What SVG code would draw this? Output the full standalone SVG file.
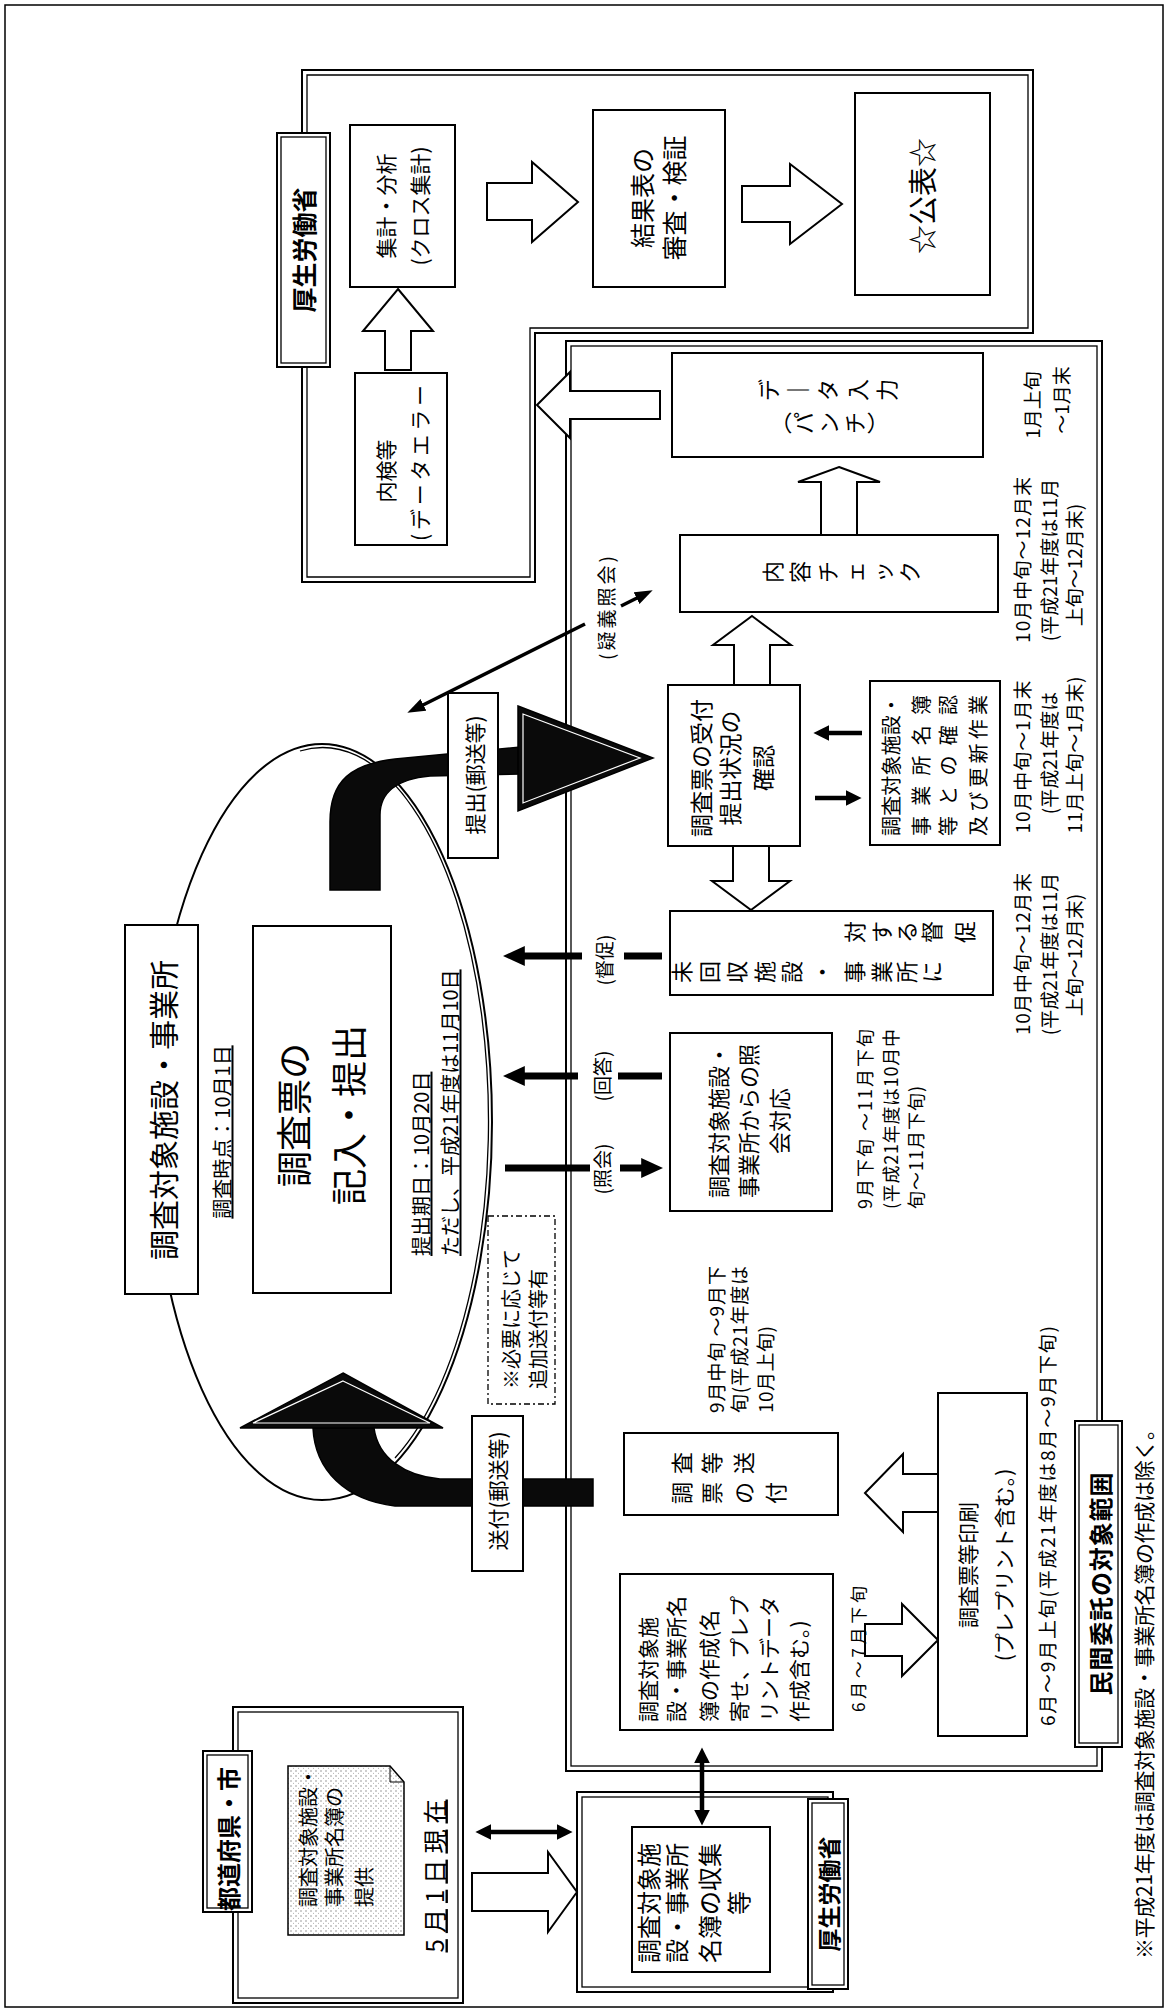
<svg xmlns="http://www.w3.org/2000/svg" width="1168" height="2011" viewBox="0 0 1168 2011">
<style>
.bx{fill:#fff;stroke:#000;stroke-width:2}
.bi{fill:none;stroke:#000;stroke-width:1.3}
.fr{fill:none;stroke:#000;stroke-width:2}
.ha{fill:#fff;stroke:#000;stroke-width:2}
.bk{fill:#0a0a0a;stroke:#000;stroke-width:1.5}
.wl{fill:none;stroke:#fff;stroke-width:1.2}
.l7{stroke:#000;stroke-width:7;fill:none}
.l4{stroke:#000;stroke-width:4.5;fill:none}
.l3{stroke:#000;stroke-width:3.5;fill:none}
text{font-family:"Noto Sans CJK JP","Noto Sans CJK SC",sans-serif;fill:#000;text-anchor:middle;dominant-baseline:central}
.s{text-anchor:start}
.b{font-weight:700}
.u{text-decoration:underline}
</style>
<defs>
<marker id="ahL" viewBox="0 0 10 10" refX="4" refY="5" markerWidth="22" markerHeight="20" markerUnits="userSpaceOnUse" preserveAspectRatio="none" orient="auto-start-reverse"><path d="M0,0L10,5L0,10z"/></marker>
<marker id="ahM" viewBox="0 0 10 10" refX="4" refY="5" markerWidth="16" markerHeight="16" markerUnits="userSpaceOnUse" preserveAspectRatio="none" orient="auto-start-reverse"><path d="M0,0L10,5L0,10z"/></marker>
<marker id="ahS" viewBox="0 0 10 10" refX="4" refY="5" markerWidth="18" markerHeight="13" markerUnits="userSpaceOnUse" preserveAspectRatio="none" orient="auto-start-reverse"><path d="M0,0L10,5L0,10z"/></marker>
<pattern id="dots" width="5" height="5" patternUnits="userSpaceOnUse"><rect width="5" height="5" fill="#fff"/><circle cx="1" cy="1" r="0.7" fill="#777"/><circle cx="3.5" cy="3.2" r="0.5" fill="#999"/></pattern>
</defs>
<rect width="1168" height="2011" fill="#fff"/>
<rect x="5" y="5" width="1158" height="2002" fill="none" stroke="#000" stroke-width="1.5"/>

<!-- frames -->
<g id="mhlw-top-frame">
<polygon class="fr" points="302,70 1033,70 1033,333 535,333 535,582 302,582"/>
<polygon class="bi" points="307,75 1028,75 1028,328 530,328 530,577 307,577"/>
</g>
<g id="outsourcing-frame">
<rect class="fr" x="566" y="341" width="536" height="1430"/>
<rect class="bi" x="571" y="346" width="526" height="1420"/>
</g>
<g id="mhlw-bottom-frame">
<rect class="fr" x="577" y="1792" width="256" height="200"/>
<rect class="bi" x="582" y="1797" width="246" height="190"/>
</g>
<g id="prefecture-frame">
<rect class="fr" x="233" y="1707" width="230" height="296"/>
<rect class="bi" x="238" y="1712" width="220" height="286"/>
</g>

<!-- ellipse and curved arrows -->
<g id="survey-cycle">
<ellipse cx="322" cy="1122" rx="170" ry="378" fill="none" stroke="#000" stroke-width="2"/>
<path d="M300,751 A166 374 0 0 1 395,1458" fill="none" stroke="#000" stroke-width="1.3"/>
</g>

<g id="connectors">
<path class="bk" d="M330,890 L330,822 C330,780 352,764 395,759 L520,747 L520,774 L430,776 C398,779 380,792 380,815 L380,890 Z"/>
<polygon class="bk" points="518,706 653,758 518,811"/>
<polygon class="wl" points="523,714 640,758 523,803"/>
<path class="bk" d="M313,1428 C315,1470 345,1500 395,1506 L593,1506 L593,1479 L440,1479 C405,1476 378,1458 374,1428 Z"/>
<polygon class="bk" points="343,1373 443,1428 240,1428"/>
<polygon class="wl" points="343,1381 430,1423 253,1423"/>

<polygon class="ha" points="398,289 433,331 411,331 411,370 385,370 385,331 363,331"/>
<polygon class="ha" points="578,202 532,242 532,220 487,220 487,183 532,183 532,162"/>
<polygon class="ha" points="842,204 790,244 790,222 742,222 742,186 790,186 790,164"/>
<polygon class="ha" points="537,405 570,372 570,391 660,391 660,419 570,419 570,438"/>
<polygon class="ha" points="839,467 880,482 857,482 857,535 821,535 821,482 798,482"/>
<polygon class="ha" points="752,616 791,645 770,645 770,685 734,685 734,645 713,645"/>
<polygon class="ha" points="751,910 790,881 769,881 769,846 733,846 733,881 712,881"/>
<polygon class="ha" points="577,1892 548,1932 548,1911 472,1911 472,1873 548,1873 548,1852"/>
<polygon class="ha" points="938,1640 902,1676 902,1656 865,1656 865,1624 902,1624 902,1604"/>
<polygon class="ha" points="865,1493 903,1532 903,1512 938,1512 938,1474 903,1474 903,1454"/>

<line class="l3" x1="417" y1="708" x2="585" y2="624" marker-start="url(#ahS)"/>
<line class="l3" x1="621" y1="606" x2="643" y2="595" marker-end="url(#ahS)"/>
<line class="l7" x1="662" y1="956" x2="624" y2="956"/>
<line class="l7" x1="582" y1="956" x2="516" y2="956" marker-end="url(#ahL)"/>
<line class="l7" x1="662" y1="1076" x2="618" y2="1076"/>
<line class="l7" x1="578" y1="1076" x2="516" y2="1076" marker-end="url(#ahL)"/>
<line class="l7" x1="505" y1="1168" x2="590" y2="1168"/>
<line class="l7" x1="620" y1="1168" x2="650" y2="1168" marker-end="url(#ahL)"/>
<line class="l4" x1="862" y1="733" x2="823" y2="733" marker-end="url(#ahM)"/>
<line class="l4" x1="815" y1="798" x2="852" y2="798" marker-end="url(#ahM)"/>
<line class="l4" x1="485" y1="1832" x2="563" y2="1832" marker-start="url(#ahM)" marker-end="url(#ahM)"/>
<line class="l4" x1="702" y1="1757" x2="702" y2="1816" marker-start="url(#ahM)" marker-end="url(#ahM)"/>
<g transform="rotate(-90)">
<text x="-608" y="605" font-size="19" textLength="104">(疑義照会)</text>
<text x="-960" y="603" font-size="19">(督促)</text>
<text x="-1076" y="601" font-size="19">(回答)</text>
<text x="-1169" y="601" font-size="19">(照会)</text>
</g>
</g>

<!-- nodes -->
<g id="mhlw-top-label">
<rect class="bx" x="277" y="133" width="53" height="234"/>
<rect class="bi" x="281" y="137" width="45" height="226"/>
<g transform="rotate(-90)"><text class="b" x="-250" y="303" font-size="25">厚生労働省</text></g>
</g>
<g id="aggregation">
<rect class="bx" x="350" y="125" width="105" height="162"/>
<g transform="rotate(-90)" font-size="21"><text x="-206" y="385">集計・分析</text><text x="-206" y="419">(クロス集計)</text></g>
</g>
<g id="inspection">
<rect class="bx" x="355" y="373" width="92" height="172"/>
<g transform="rotate(-90)" font-size="21"><text x="-471" y="385">内検等</text><text class="s" x="-541" y="419" textLength="156">(データエラー</text></g>
</g>
<g id="result-review">
<rect class="bx" x="593" y="110" width="132" height="177"/>
<g transform="rotate(-90)" font-size="25"><text x="-198" y="641">結果表の</text><text x="-198" y="673">審査・検証</text></g>
</g>
<g id="publication">
<rect class="bx" x="855" y="93" width="135" height="202" stroke-width="2.5"/>
<g transform="rotate(-90)"><text x="-196" y="921" font-size="29">☆公表☆</text></g>
</g>

<g id="data-entry">
<rect class="bx" x="672" y="353" width="311" height="104"/>
<g transform="rotate(-90)" font-size="22">
<text x="-390 -390 -390 -390 -390" y="767 796 826 856 885">デ｜タ入力</text>
<text x="-423 -423 -423 -423 -423" y="779 802 827 853 876">︵パンチ︶</text>
</g>
</g>
<g id="content-check">
<rect class="bx" x="680" y="535" width="318" height="77"/>
<g transform="rotate(-90)" font-size="22"><text x="-572 -572 -572 -572 -572 -572" y="771 798 826 853 881 908">内容チェック</text></g>
</g>
<g id="receipt-check">
<rect class="bx" x="668" y="685" width="132" height="161"/>
<g transform="rotate(-90)" font-size="23"><text x="-768" y="700">調査票の受付</text><text x="-768" y="729">提出状況の</text><text x="-768" y="762">確認</text></g>
</g>
<g id="register-update">
<rect class="bx" x="870" y="681" width="130" height="164"/>
<g transform="rotate(-90)" font-size="20">
<text class="s" x="-836" y="890" textLength="141">調査対象施設・</text>
<text class="s" x="-836" y="920" textLength="141">事業所名簿</text>
<text class="s" x="-836" y="947" textLength="141">等との確認</text>
<text class="s" x="-836" y="977" textLength="141">及び更新作業</text>
</g>
</g>
<g id="reminder">
<rect class="bx" x="670" y="911" width="323" height="84"/>
<g transform="rotate(-90)" font-size="22">
<text x="-972 -972 -972 -972 -972 -972 -972 -972 -972 -972" y="680 708 735 763 790 820 853 880 905 930">未回収施設・事業所に</text>
<text x="-932 -932 -932 -932 -932" y="853 880 905 930 963">対する督促</text>
</g>
</g>
<g id="inquiry-response">
<rect class="bx" x="670" y="1033" width="162" height="178"/>
<g transform="rotate(-90)" font-size="22"><text x="-1121" y="717">調査対象施設・</text><text x="-1121" y="747">事業所からの照</text><text x="-1121" y="778">会対応</text></g>
</g>
<g id="form-dispatch">
<rect class="bx" x="624" y="1433" width="214" height="82"/>
<g transform="rotate(-90)" font-size="22">
<text x="-1493 -1493 -1493 -1493" y="680 710 742 774">調票の付</text>
<text x="-1463 -1463 -1463" y="680 710 742">査等送</text>
</g>
</g>
<g id="form-printing">
<rect class="bx" x="938" y="1393" width="89" height="343"/>
<g transform="rotate(-90)" font-size="21"><text x="-1565" y="967">調査票等印刷</text><text x="-1565" y="1003">(プレプリント含む。)</text></g>
</g>
<g id="register-creation">
<rect class="bx" x="620" y="1574" width="213" height="156"/>
<g transform="rotate(-90)" font-size="21">
<text class="s" x="-1722" y="647">調査対象施</text>
<text class="s" x="-1722" y="675">設・事業所名</text>
<text class="s" x="-1722" y="708">簿の作成(名</text>
<text class="s" x="-1722" y="738">寄せ、プレプ</text>
<text class="s" x="-1722" y="768">リントデータ</text>
<text class="s" x="-1722" y="798">作成含む。)</text>
</g>
</g>
<g id="outsourcing-label">
<rect class="bx" x="1075" y="1421" width="47" height="326"/>
<rect class="bi" x="1079" y="1425" width="39" height="318"/>
<g transform="rotate(-90)"><text class="b" x="-1584" y="1099" font-size="24" textLength="223">民間委託の対象範囲</text></g>
</g>

<g id="survey-target-label">
<rect class="bx" x="125" y="925" width="73" height="369" stroke-width="2.5"/>
<g transform="rotate(-90)"><text x="-1110" y="162" font-size="30">調査対象施設・事業所</text></g>
</g>
<g id="survey-fill">
<rect class="bx" x="253" y="926" width="138" height="367" stroke-width="2.5"/>
<g transform="rotate(-90)" font-size="36"><text x="-1115" y="292">調査票の</text><text x="-1115" y="347">記入・提出</text></g>
</g>
<g id="survey-notes">
<g transform="rotate(-90)" font-size="20">
<text class="u" x="-1132" y="221">調査時点：10月1日</text>
<text class="s u" x="-1256" y="420">提出期日：10月20日</text>
<text class="s u" x="-1256" y="449">ただし、平成21年度は11月10日</text>
</g>
</g>
<g id="extra-dispatch-note">
<rect x="488" y="1216" width="67" height="188" fill="#fff" stroke="#000" stroke-width="1.3" stroke-dasharray="6,3,2,3"/>
<g transform="rotate(-90)" font-size="20"><text class="s" x="-1389" y="510">※必要に応じて</text><text class="s" x="-1389" y="537">追加送付等有</text></g>
</g>
<g id="submit-label">
<rect class="bx" x="448" y="693" width="50" height="165"/>
<g transform="rotate(-90)"><text x="-775" y="474" font-size="21">提出(郵送等)</text></g>
</g>
<g id="send-label">
<rect class="bx" x="472" y="1416" width="51" height="155"/>
<g transform="rotate(-90)"><text x="-1491" y="497" font-size="21">送付(郵送等)</text></g>
</g>

<g id="mhlw-collection">
<rect class="bx" x="632" y="1827" width="138" height="145"/>
<g transform="rotate(-90)" font-size="24"><text x="-1903" y="647">調査対象施</text><text x="-1903" y="675">設・事業所</text><text x="-1903" y="708">名簿の収集</text><text x="-1903" y="737">等</text></g>
</g>
<g id="mhlw-bottom-label">
<rect class="bx" x="808" y="1799" width="40" height="190"/>
<rect class="bi" x="812" y="1803" width="32" height="182"/>
<g transform="rotate(-90)"><text class="b" x="-1894" y="828" font-size="23">厚生労働省</text></g>
</g>
<g id="prefecture-list">
<path d="M288,1766 L390,1766 L404,1782 L404,1935 L288,1935 Z" fill="url(#dots)" stroke="#000" stroke-width="1.5"/>
<path d="M390,1766 L390,1782 L404,1782" fill="none" stroke="#000" stroke-width="1"/>
<g transform="rotate(-90)" font-size="20"><text class="s" x="-1907" y="307">調査対象施設・</text><text class="s" x="-1907" y="333">事業所名簿の</text><text class="s" x="-1907" y="363">提供</text></g>
<g transform="rotate(-90)"><text class="u" x="-1876" y="433" font-size="24" textLength="153">5月1日現在</text></g>
</g>
<g id="prefecture-label">
<rect class="bx" x="203" y="1751" width="49" height="161"/>
<rect class="bi" x="207" y="1755" width="41" height="153"/>
<g transform="rotate(-90)"><text class="b" x="-1839" y="227" font-size="24">都道府県・市</text></g>
</g>

<g id="schedule-notes">
<g transform="rotate(-90)" font-size="19">
<text x="-405" y="1031">1月上旬</text><text x="-400" y="1060">～1月末</text>
<text x="-560" y="1021" textLength="166">10月中旬～12月末</text><text x="-560" y="1048">(平成21年度は11月</text><text x="-565" y="1073">上旬～12月末)</text>
<text x="-757" y="1021" textLength="153">10月中旬～1月末</text><text x="-753" y="1048">(平成21年度は</text><text x="-755" y="1073" textLength="157">11月上旬～1月末)</text>
<text x="-954" y="1021" textLength="162">10月中旬～12月末</text><text x="-954" y="1048">(平成21年度は11月</text><text x="-955" y="1073">上旬～12月末)</text>
<text class="s" x="-1209" y="864" font-size="18" textLength="180">9月下旬 ～11月下旬</text>
<text class="s" x="-1209" y="890" font-size="18" textLength="180">(平成21年度は10月中</text>
<text class="s" x="-1209" y="915" font-size="18" textLength="123">旬～11月下旬)</text>
<text class="s" x="-1413" y="715" textLength="147">9月中旬 ～9月下</text>
<text class="s" x="-1413" y="738" textLength="147">旬(平成21年度は</text>
<text class="s" x="-1413" y="764" textLength="87">10月上旬)</text>
<text class="s" x="-1712" y="857" font-size="17" textLength="126">6月～7月下旬</text>
<text class="s" x="-1726" y="1046" textLength="400">6月～9月上旬(平成21年度は8月～9月下旬)</text>
<text class="s" x="-1959" y="1143" font-size="21" textLength="540">※平成21年度は調査対象施設・事業所名簿の作成は除く。</text>
</g>
</g>
</svg>
